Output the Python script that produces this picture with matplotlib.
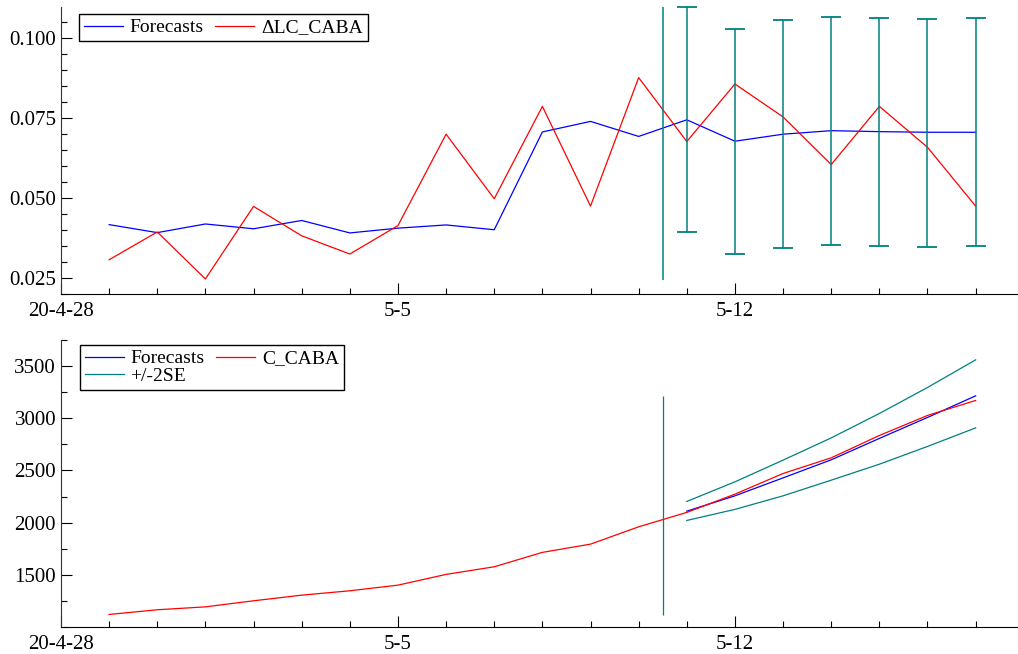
import numpy as np
import matplotlib
matplotlib.use('Agg')
import matplotlib.pyplot as plt
from matplotlib.ticker import MultipleLocator

plt.rcParams['font.family'] = ['Liberation Serif', 'DejaVu Serif']

# days after 2020-04-28 (4-29 .. 5-17)
days = np.arange(1, 20)
tick_pos = [0, 7, 14]
tick_labels = ['20-4-28', '5-5', '5-12']

# top panel: growth rate
dlc_caba = [0.0307, 0.0394, 0.0247, 0.0474, 0.0382, 0.0325, 0.0414, 0.0700, 0.0498,
            0.0787, 0.0475, 0.0877, 0.0677, 0.0857, 0.0754, 0.0605, 0.0787, 0.0659, 0.0475]
fc_dlc = [0.0417, 0.0392, 0.0419, 0.0404, 0.0430, 0.0391, 0.0406, 0.0416, 0.0401,
          0.0707, 0.0740, 0.0693, 0.0745, 0.0678, 0.0700, 0.0711, 0.0708, 0.0706, 0.0706]
fc_days = np.arange(13, 20)
dlc_upper = [0.1098, 0.1028, 0.1056, 0.1068, 0.1064, 0.1062, 0.1063]
dlc_lower = [0.0394, 0.0325, 0.0343, 0.0354, 0.0350, 0.0348, 0.0349]

# bottom panel: cumulative cases
c_caba = [1120, 1165, 1193, 1251, 1305, 1347, 1401, 1504, 1577, 1715,
          1794, 1960, 2098, 2273, 2471, 2621, 2835, 3027, 3171]
fc_c = [2110, 2257, 2429, 2602, 2807, 3008, 3215]
c_upper = [2203, 2391, 2599, 2812, 3046, 3295, 3560]
c_lower = [2021, 2127, 2257, 2407, 2560, 2730, 2908]

split = 12.5
teal = '#008080'

fig = plt.figure(figsize=(10.18, 6.54), dpi=100)
ax1 = fig.add_axes([0.0599, 0.5505, 0.9401, 0.4388])
ax2 = fig.add_axes([0.0599, 0.0413, 0.9401, 0.4388])

leg_kw = dict(loc='upper left', ncol=2, fontsize=14, frameon=True, fancybox=False,
              edgecolor='black', framealpha=1, borderpad=0.25, borderaxespad=0,
              handlelength=2.0, handletextpad=0.35, columnspacing=0.6, labelspacing=0.0)

ax1.plot(days, fc_dlc, color='blue', lw=0.9, label='Forecasts')
ax1.plot(days, dlc_caba, color='red', lw=0.9, label='ΔLC_CABA')
fc = np.array(fc_dlc[12:])
eb = ax1.errorbar(fc_days, fc, yerr=[fc - np.array(dlc_lower), np.array(dlc_upper) - fc],
                  fmt='none', ecolor=teal, elinewidth=1.1, capsize=7.5, capthick=1.3)
for art in eb.lines[1] + eb.lines[2]:
    art.set_clip_on(False)
ax1.vlines(split, 0.0245, 0.1098, color=teal, lw=1.1)
ax1.set_ylim(0.02, 0.1098)
ax1.yaxis.set_minor_locator(MultipleLocator(0.005))
ax1.set_yticks([0.025, 0.05, 0.075, 0.1])
ax1.set_yticklabels(['0.025', '0.050', '0.075', '0.100'])
ax1.legend(bbox_to_anchor=(0.0188, 0.976), **leg_kw)

ax2.plot(fc_days, fc_c, color='blue', lw=0.9, label='Forecasts')
ax2.plot(days, c_caba, color='red', lw=0.9, label='C_CABA')
ax2.plot(fc_days, c_upper, color=teal, lw=0.9, label='+/-2SE')
ax2.plot(fc_days, c_lower, color=teal, lw=0.9)
ax2.vlines(split, 1117, 3218, color=teal, lw=0.9)
ax2.set_ylim(1000, 3750)
ax2.yaxis.set_minor_locator(MultipleLocator(250))
ax2.set_yticks([1500, 2000, 2500, 3000, 3500])
h, l = ax2.get_legend_handles_labels()
ax2.legend([h[0], h[2], h[1]], [l[0], l[2], l[1]],
           bbox_to_anchor=(0.0198, 0.983), **leg_kw)

for ax in (ax1, ax2):
    ax.set_xlim(0, 19.88)
    ax.set_xticks(tick_pos)
    ax.set_xticklabels(tick_labels)
    ax.xaxis.set_minor_locator(MultipleLocator(1))
    ax.spines['top'].set_visible(False)
    ax.spines['right'].set_visible(False)
    ax.spines['left'].set_color('#333333')
    ax.tick_params(which='both', direction='in', labelsize=15, width=0.8)
    ax.tick_params(which='major', length=8)
    ax.tick_params(which='minor', length=4)
    ax.tick_params(axis='x', pad=6)

fig.savefig('out.png', dpi=100)
